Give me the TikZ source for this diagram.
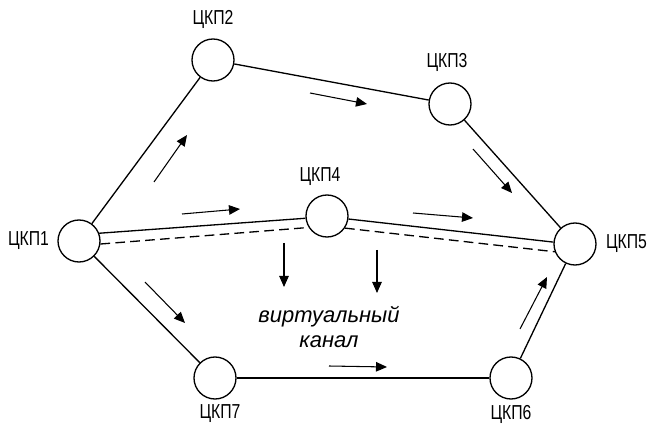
\documentclass[tikz,border=0pt]{standalone}
\usepackage{fontspec}
\setmainfont{Liberation Sans}
\newfontfamily\narrowfont[FakeStretch=0.78]{Liberation Sans}
\usetikzlibrary{arrows.meta, positioning}

\begin{document}
\begin{tikzpicture}[
    ckp/.style={draw, circle, line width=0.75pt, minimum size=0.84cm,
                inner sep=0pt},
    ckpname/.style={inner sep=0pt,
                    font=\fontsize{11.5}{13}\selectfont\narrowfont},
    link/.style={line width=0.75pt},
    vlink/.style={line width=0.75pt, dash pattern=on 5.5pt off 3pt},
    flow/.style={-{Triangle[length=0.22cm, width=0.19cm]}, line width=0.6pt}
  ]
  \useasboundingbox (0,0) rectangle (12.96,8.6);

  % switching centres
  \node[ckp] (n1) at (1.58, 3.78) {};
  \node[ckp] (n2) at (4.26, 7.40) {};
  \node[ckp] (n3) at (9.00, 6.52) {};
  \node[ckp] (n4) at (6.54, 4.28) {};
  \node[ckp] (n5) at (11.50, 3.72) {};
  \node[ckp] (n6) at (10.22, 1.04) {};
  \node[ckp] (n7) at (4.30, 1.04) {};

  \node[ckpname, left=0.16cm of n1] {ЦКП1};
  \node[ckpname, above=0.18cm of n2] {ЦКП2};
  \node[ckpname, above=0.2cm of n3, xshift=-0.06cm] {ЦКП3};
  \node[ckpname, above=0.16cm of n4, xshift=-0.14cm] {ЦКП4};
  \node[ckpname, right=0.18cm of n5] {ЦКП5};
  \node[ckpname, below=0.1cm of n6] {ЦКП6};
  \node[ckpname, below=0.1cm of n7, xshift=0.1cm] {ЦКП7};

  % links
  \draw[link] (n1) -- (n2);
  \draw[link] (n2) -- (n3);
  \draw[link] (n3) -- (n5);
  \draw[link] (n1) -- (n7);
  \draw[link] (n7) -- (n6);
  \draw[link] (n6) -- (n5);
  \draw[link] (n1.21) -- (n4.186);
  \draw[link] (n4.352) -- (n5.175);

  % virtual channel
  \draw[vlink] (n1.352) -- (n4.212);
  \draw[vlink] (n4.326) -- (n5.201);

  % traffic directions
  \draw[flow] (3.08, 4.96) -- (3.74, 5.90);
  \draw[flow] (6.20, 6.74) -- (7.34, 6.52);
  \draw[flow] (9.46, 5.62) -- (10.24, 4.74);
  \draw[flow] (3.64, 4.32) -- (4.80, 4.42);
  \draw[flow] (8.26, 4.34) -- (9.46, 4.24);
  \draw[flow] (5.68, 3.74) -- (5.68, 2.86);
  \draw[flow] (7.54, 3.60) -- (7.54, 2.74);
  \draw[flow] (2.90, 2.96) -- (3.70, 2.14);
  \draw[flow] (6.58, 1.28) -- (7.74, 1.26);
  \draw[flow] (10.40, 2.02) -- (10.94, 3.06);

  \node[align=center, font=\fontsize{12.5}{14.7}\selectfont\itshape]
    (vc) at (6.58, 2.06) {виртуальный\\канал};
\end{tikzpicture}
\end{document}
